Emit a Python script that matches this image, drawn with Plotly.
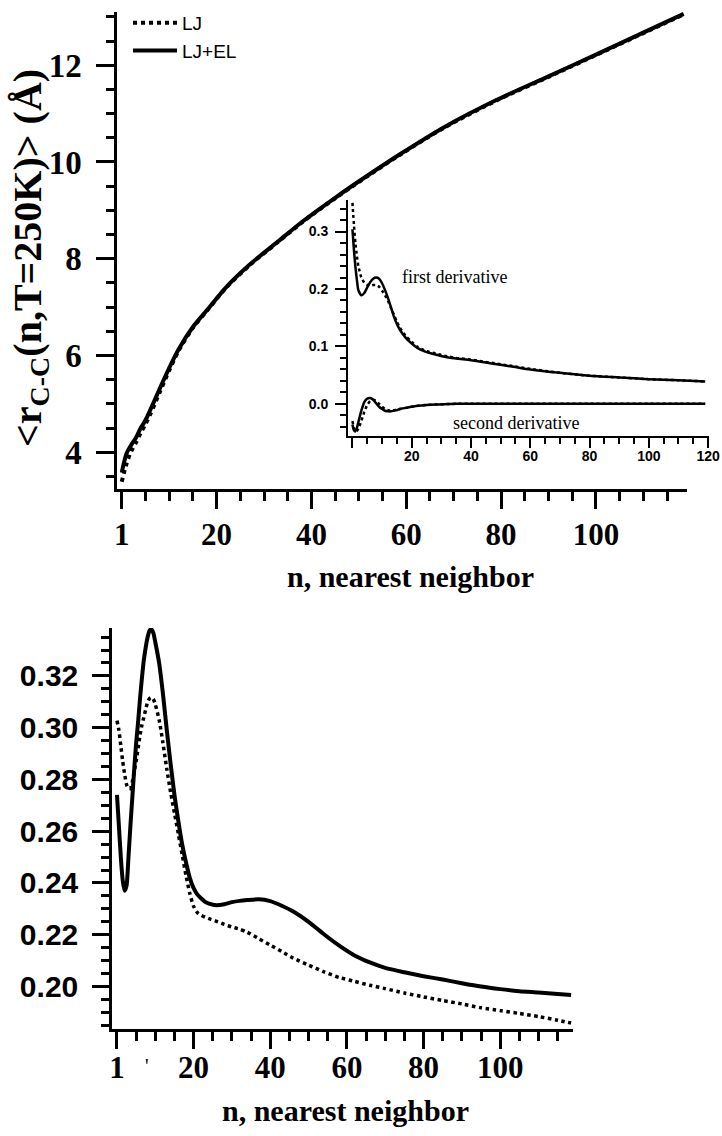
import plotly.graph_objects as go

# main panel: <r_C-C(n)> vs n
n_top = [0, 1, 2, 3, 4, 5, 6, 8, 10, 12, 15, 18, 22, 27, 33, 38, 45, 52, 59, 68, 79, 90, 100, 111, 118.5]
r_lj = [3.39, 3.76, 4.02, 4.20, 4.40, 4.58, 4.78, 5.24, 5.69, 6.10, 6.57, 6.93, 7.40, 7.87, 8.35, 8.75,
        9.25, 9.72, 10.17, 10.71, 11.27, 11.76, 12.21, 12.71, 13.05]
r_ljel = [3.58, 3.97, 4.15, 4.30, 4.50, 4.66, 4.87, 5.31, 5.74, 6.13, 6.59, 6.94, 7.41, 7.88, 8.36, 8.76,
          9.26, 9.73, 10.18, 10.72, 11.28, 11.77, 12.22, 12.72, 13.06]

# inset: first and second derivative
n_inset = [0, 0.5, 1, 1.5, 2, 3, 4, 5, 6, 7, 8, 9, 10, 11, 12, 13, 14, 15, 16, 18, 20, 22, 25, 28, 31,
           35, 40, 45, 50, 55, 60, 70, 80, 90, 100, 110, 119]
d1_lj = [0.350, 0.312, 0.280, 0.257, 0.240, 0.220, 0.211, 0.207, 0.206, 0.207, 0.207, 0.204, 0.197, 0.189,
         0.179, 0.167, 0.155, 0.143, 0.133, 0.118, 0.108, 0.099, 0.092, 0.088, 0.084, 0.080, 0.077, 0.073,
         0.069, 0.065, 0.061, 0.054, 0.049, 0.046, 0.043, 0.041, 0.039]
d1_ljel = [0.304, 0.268, 0.239, 0.216, 0.198, 0.189, 0.193, 0.203, 0.212, 0.218, 0.220, 0.218, 0.210, 0.198,
           0.184, 0.168, 0.152, 0.139, 0.129, 0.115, 0.105, 0.097, 0.090, 0.086, 0.082, 0.079, 0.076, 0.072,
           0.068, 0.064, 0.060, 0.054, 0.049, 0.046, 0.043, 0.041, 0.039]
d2_lj = [-0.030, -0.042, -0.048, -0.047, -0.043, -0.030, -0.014, -0.002, 0.005, 0.007, 0.005, 0.000, -0.005,
         -0.009, -0.011, -0.012, -0.011, -0.010, -0.009, -0.007, -0.005, -0.0035, -0.002, -0.001, -0.0005,
         0, 0, 0, 0, 0, 0, 0, 0, 0, 0, 0, 0]
d2_ljel = [-0.036, -0.046, -0.048, -0.042, -0.032, -0.012, 0.003, 0.009, 0.010, 0.007, 0.001, -0.005, -0.009,
           -0.012, -0.013, -0.013, -0.012, -0.011, -0.009, -0.007, -0.005, -0.0035, -0.002, -0.001, -0.0005,
           0, 0, 0, 0, 0, 0, 0, 0, 0, 0, 0, 0]

# lower panel
n_bot = [0, 0.5, 1, 1.5, 2, 2.5, 3, 3.5, 4, 4.5, 5, 5.5, 6, 6.5, 7, 7.5, 8, 8.5, 9, 9.5,
         10, 11, 12, 13, 14, 15, 16, 17, 18, 19, 20, 21, 22, 23, 24, 26, 28, 30, 32, 34,
         37, 40, 43, 46, 50, 54, 58, 62, 66, 70, 75, 80, 85, 90, 95, 100, 105, 110, 115, 118.5]
b_lj = [0.3027, 0.299, 0.293, 0.287, 0.282, 0.278, 0.2765, 0.2765, 0.279, 0.283,
        0.287, 0.292, 0.297, 0.301, 0.304, 0.307, 0.310, 0.3113, 0.3117, 0.311,
        0.309, 0.303, 0.294, 0.284, 0.275, 0.267, 0.259, 0.251, 0.243, 0.236,
        0.2310, 0.2285, 0.2275, 0.2268, 0.2262, 0.2252, 0.2240, 0.2230, 0.2222, 0.2210,
        0.2185, 0.2160, 0.2135, 0.2110, 0.2083, 0.2057, 0.2035, 0.2020, 0.2005, 0.1992,
        0.1975, 0.1960, 0.1946, 0.1933, 0.1918, 0.1907, 0.1896, 0.1884, 0.1870, 0.1859]
b_ljel = [0.274, 0.262, 0.250, 0.241, 0.237, 0.239, 0.250, 0.262, 0.273, 0.284,
          0.294, 0.302, 0.311, 0.319, 0.326, 0.331, 0.335, 0.3375, 0.338, 0.3365,
          0.333, 0.325, 0.313, 0.299, 0.286, 0.274, 0.264, 0.255, 0.248, 0.242,
          0.238, 0.2355, 0.234, 0.2327, 0.232, 0.2314, 0.2318, 0.2326, 0.2331, 0.2334,
          0.2337, 0.2330, 0.2312, 0.2290, 0.2250, 0.2202, 0.2158, 0.2120, 0.2093, 0.2072,
          0.2055, 0.2040, 0.2027, 0.2013, 0.2000, 0.1990, 0.1982, 0.1977, 0.1971, 0.1967]

x_ticks = [0, 20, 40, 60, 80, 100]
x_ticktext = ["1", "20", "40", "60", "80", "100"]
inset_xticks = [0, 20, 40, 60, 80, 100, 120]
inset_xticktext = ["", "20", "40", "60", "80", "100", "120"]
inset_yticks = [0.0, 0.1, 0.2, 0.3]
inset_yticktext = ["0.0", "0.1", "0.2", "0.3"]
bot_yticks = [0.20, 0.22, 0.24, 0.26, 0.28, 0.30, 0.32]
bot_yticktext = ["0.20", "0.22", "0.24", "0.26", "0.28", "0.30", "0.32"]

W, H = 722, 1136
serif = "Liberation Serif"
sans = "Liberation Sans"


def px(x):
    return x / W


def py(y):
    return 1 - y / H


fig = go.Figure()

# main curves
fig.add_trace(go.Scatter(x=n_top, y=r_lj, mode="lines", name="LJ",
                         line=dict(color="black", width=4, dash="dot", shape="spline", smoothing=0.8),
                         xaxis="x", yaxis="y"))
fig.add_trace(go.Scatter(x=n_top, y=r_ljel, mode="lines", name="LJ+EL",
                         line=dict(color="black", width=4, shape="spline", smoothing=0.8),
                         xaxis="x", yaxis="y"))

# inset
for ys, dash in [(d1_lj, "dot"), (d1_ljel, "solid"), (d2_lj, "dot"), (d2_ljel, "solid")]:
    fig.add_trace(go.Scatter(x=n_inset, y=ys, mode="lines", showlegend=False,
                             line=dict(color="black", width=2.5, dash=dash, shape="spline", smoothing=0.6),
                             xaxis="x2", yaxis="y2"))

# lower panel
fig.add_trace(go.Scatter(x=n_bot, y=b_lj, mode="lines", showlegend=False,
                         line=dict(color="black", width=3.5, dash="dot", shape="spline", smoothing=0.6),
                         xaxis="x3", yaxis="y3"))
fig.add_trace(go.Scatter(x=n_bot, y=b_ljel, mode="lines", showlegend=False,
                         line=dict(color="black", width=4, shape="spline", smoothing=0.6),
                         xaxis="x3", yaxis="y3"))

# automargin off, otherwise labels near the edges push the domains around
axis_common = dict(showline=True, linecolor="black", showgrid=False, zeroline=False,
                   ticks="outside", tickcolor="black", automargin=False)

fig.update_layout(
    width=W, height=H,
    margin=dict(l=0, r=0, t=0, b=0),
    paper_bgcolor="white", plot_bgcolor="rgba(0,0,0,0)",
    showlegend=True,
    legend=dict(x=px(128), y=py(4), xanchor="left", yanchor="top",
                font=dict(family=sans, size=19, color="black"),
                bgcolor="rgba(0,0,0,0)", tracegroupgap=0, itemwidth=44),
    xaxis=dict(axis_common, domain=[px(117), px(687)], range=[-1.0, 119.2], anchor="y",
               linewidth=2.5, tickwidth=2.5, ticklen=17,
               tickmode="array", tickvals=x_ticks, ticktext=x_ticktext, ticklabelstandoff=-1,
               tickfont=dict(family=serif, size=31, color="black", weight="bold"),
               minor=dict(tick0=0, dtick=5, ticks="outside", ticklen=9, tickwidth=2.5, tickcolor="black")),
    yaxis=dict(axis_common, domain=[py(489), py(12)], range=[3.24, 13.10], anchor="x",
               linewidth=2.5, tickwidth=2.5, ticklen=18,
               tickmode="array", tickvals=[4, 6, 8, 10, 12], ticklabelstandoff=8,
               tickfont=dict(family=serif, size=33, color="black", weight="bold"),
               minor=dict(tick0=0, dtick=0.5, ticks="outside", ticklen=8, tickwidth=2.5, tickcolor="black")),
    xaxis2=dict(axis_common, domain=[px(348), px(709)], range=[-1.5, 120.3], anchor="y2",
                linewidth=2, tickwidth=2, ticklen=10,
                tickmode="array", tickvals=inset_xticks, ticktext=inset_xticktext, ticklabelstandoff=-4,
                ticklabeloverflow="allow",
                tickfont=dict(family=sans, size=14, color="black", weight="bold"),
                minor=dict(tick0=0, dtick=5, ticks="outside", ticklen=6, tickwidth=2, tickcolor="black")),
    yaxis2=dict(axis_common, domain=[py(436), py(200)], range=[-0.056, 0.355], anchor="x2",
                linewidth=2, tickwidth=2, ticklen=11,
                tickmode="array", tickvals=inset_yticks, ticktext=inset_yticktext, ticklabelstandoff=4,
                tickfont=dict(family=sans, size=14, color="black", weight="bold"),
                minor=dict(tick0=0, dtick=0.02, ticks="outside", ticklen=6, tickwidth=2, tickcolor="black")),
    xaxis3=dict(axis_common, domain=[px(112), px(573)], range=[-1.3, 119], anchor="y3",
                linewidth=2.5, tickwidth=2.5, ticklen=17,
                tickmode="array", tickvals=x_ticks, ticktext=x_ticktext, ticklabelstandoff=-8,
                tickfont=dict(family=serif, size=31, color="black", weight="bold"),
                minor=dict(tick0=0, dtick=5, ticks="outside", ticklen=9, tickwidth=2.5, tickcolor="black")),
    yaxis3=dict(axis_common, domain=[py(1029), py(628)], range=[0.1836, 0.3385], anchor="x3",
                linewidth=2.5, tickwidth=2.5, ticklen=17,
                tickmode="array", tickvals=bot_yticks, ticktext=bot_yticktext, ticklabelstandoff=8,
                tickfont=dict(family=sans, size=30, color="black", weight="bold"),
                minor=dict(tick0=0, dtick=0.005, ticks="outside", ticklen=8, tickwidth=2.5, tickcolor="black")),
)

title_font = dict(family=serif, size=30, color="black", weight="bold")
annotations = [
    dict(x=px(410), y=py(576), text="n, nearest neighbor", font=title_font),
    dict(x=px(345), y=py(1110), text="n, nearest neighbor", font=title_font),
    dict(x=px(30), y=py(258), text="&lt;r<sub>C-C</sub>(n,T=250K)&gt; (Å)", textangle=-90,
         font=dict(family=serif, size=40, color="black", weight="bold")),
    dict(x=px(454), y=py(277), text="first derivative",
         font=dict(family=serif, size=18, color="black")),
    dict(x=px(516), y=py(423), text="second derivative",
         font=dict(family=serif, size=18, color="black")),
    dict(x=px(147), y=py(1066), text="'", font=dict(family=serif, size=20, color="black")),
]
for a in annotations:
    a.update(xref="paper", yref="paper", showarrow=False, xanchor="center", yanchor="middle")
fig.update_layout(annotations=annotations)

# drop the default body margin so the figure fills the 722x1136 window exactly
fig.write_html("out.html", config={"displayModeBar": False},
               post_script="document.body.style.margin='0px';"
                           "document.documentElement.style.overflow='hidden';")
